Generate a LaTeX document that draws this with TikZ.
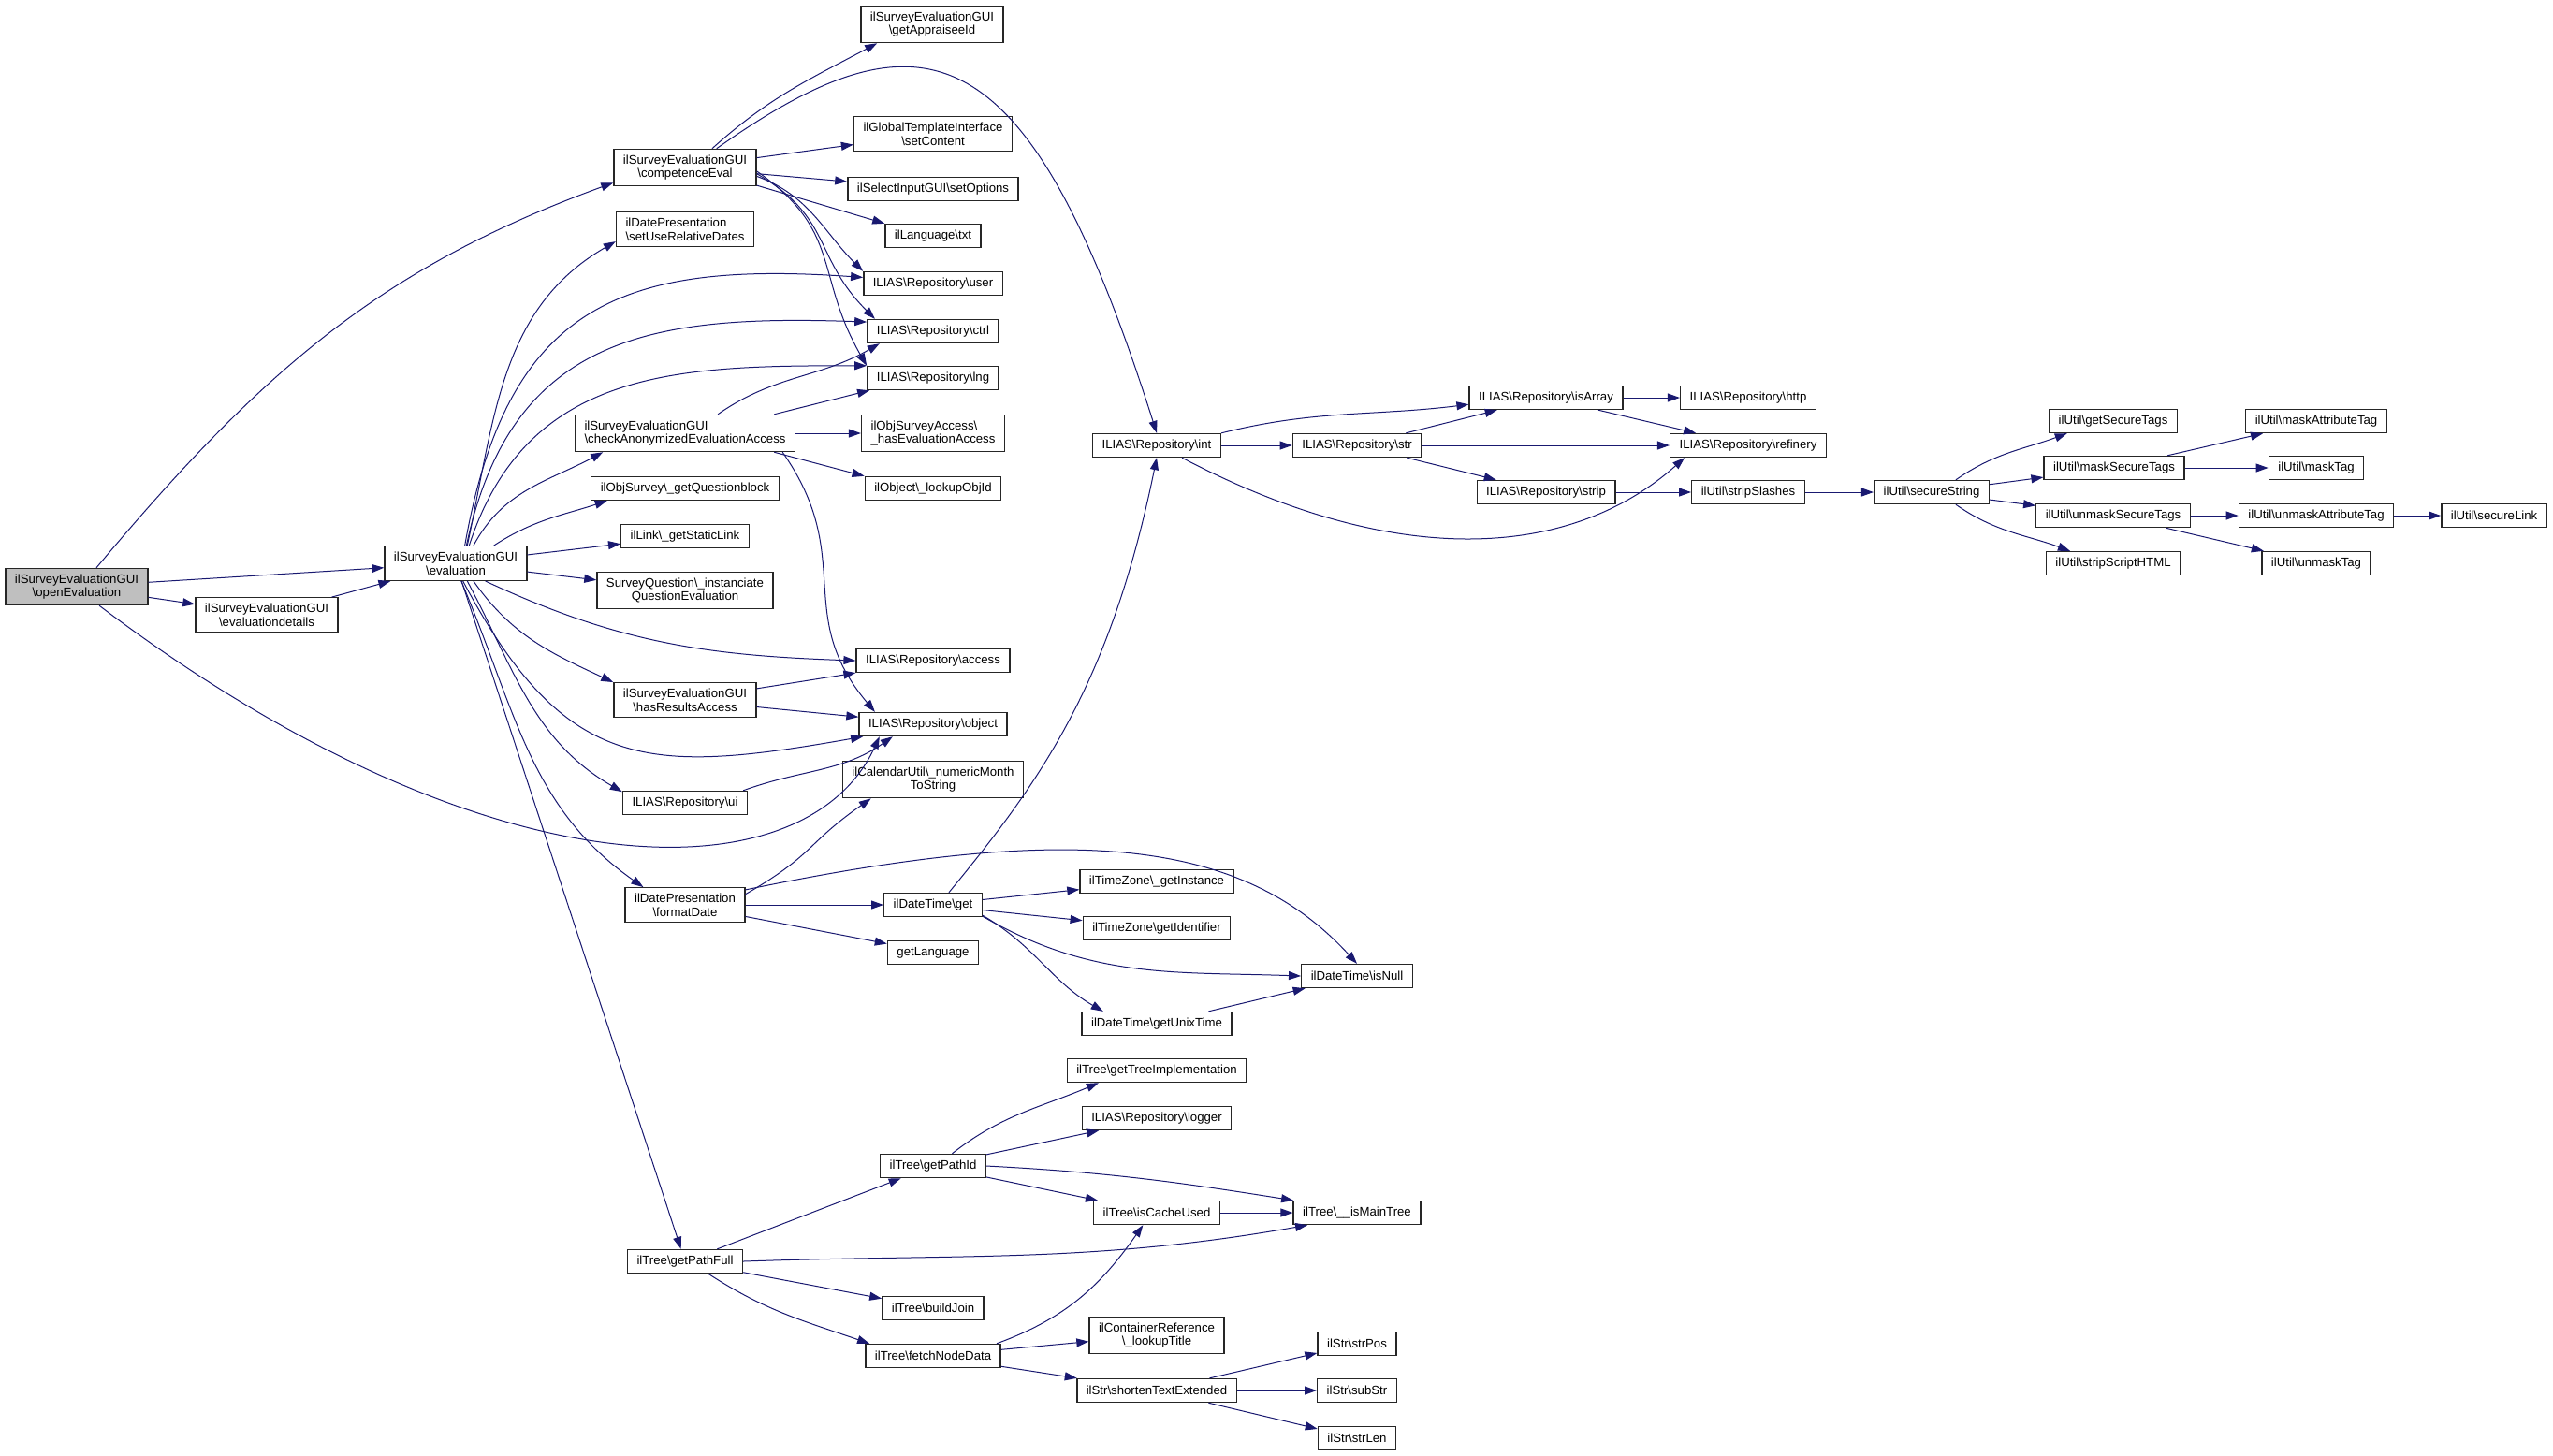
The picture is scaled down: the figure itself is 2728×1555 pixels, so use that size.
\documentclass[tikz,border=0pt]{standalone}
\usepackage{fontspec}
\setmainfont{Liberation Sans}
\usepackage{tikz}
\usetikzlibrary{arrows.meta}
\definecolor{callblue}{RGB}{25,25,112}
\newcommand{\bsl}{\textbackslash}

\begin{document}
\begin{tikzpicture}[x=0.5pt,y=0.5pt,
  fn/.style={draw=black!85, line width=0.7pt, fill=white, rectangle, inner xsep=5pt, inner ysep=3pt,
    minimum height=12.5pt, font=\fontsize{6.6}{7.4}\selectfont, align=center},
  fnl/.style={fn, align=left},
  call/.style={-{Triangle[length=6.5pt,width=4.5pt]}, draw=callblue, line width=0.5pt}]
\useasboundingbox (0,0) rectangle (2728,-1555);

% nodes %
\node[fn, fill=black!25] (oe) at (82,-627) {ilSurveyEvaluationGUI\\\bsl openEvaluation};
\node[fn] (ed) at (285,-657) {ilSurveyEvaluationGUI\\\bsl evaluationdetails};
\node[fn] (ev) at (487,-602) {ilSurveyEvaluationGUI\\\bsl evaluation};

\node[fn] (ce) at (732,-179) {ilSurveyEvaluationGUI\\\bsl competenceEval};
\node[fnl] (su) at (732,-245) {ilDatePresentation\\\bsl setUseRelativeDates};
\node[fnl] (ca) at (732,-463) {ilSurveyEvaluationGUI\\\bsl checkAnonymizedEvaluationAccess};
\node[fn] (gq) at (732,-522) {ilObjSurvey\bsl\_getQuestionblock};
\node[fn] (sl) at (732,-573) {ilLink\bsl\_getStaticLink};
\node[fn] (sq) at (732,-631) {SurveyQuestion\bsl\_instanciate\\QuestionEvaluation};
\node[fn] (hr) at (732,-748) {ilSurveyEvaluationGUI\\\bsl hasResultsAccess};
\node[fn] (ui) at (732,-858) {ILIAS\bsl Repository\bsl ui};
\node[fn] (fd) at (732,-967) {ilDatePresentation\\\bsl formatDate};
\node[fn] (pf) at (732,-1348) {ilTree\bsl getPathFull};

\node[fn] (ga) at (996,-26) {ilSurveyEvaluationGUI\\\bsl getAppraiseeId};
\node[fn] (sc) at (997,-143) {ilGlobalTemplateInterface\\\bsl setContent};
\node[fn] (so) at (997,-202) {ilSelectInputGUI\bsl setOptions};
\node[fn] (tx) at (997,-252) {ilLanguage\bsl txt};
\node[fn] (us) at (997,-303) {ILIAS\bsl Repository\bsl user};
\node[fn] (ct) at (997,-354) {ILIAS\bsl Repository\bsl ctrl};
\node[fn] (lng) at (997,-404) {ILIAS\bsl Repository\bsl lng};
\node[fnl] (he) at (997,-463) {ilObjSurveyAccess\bsl\\\_hasEvaluationAccess};
\node[fn] (lo) at (997,-522) {ilObject\bsl\_lookupObjId};
\node[fn] (ac) at (997,-706) {ILIAS\bsl Repository\bsl access};
\node[fn] (ob) at (997,-774) {ILIAS\bsl Repository\bsl object};
\node[fn] (nm) at (997,-833) {ilCalendarUtil\bsl\_numericMonth\\ToString};
\node[fn] (dg) at (997,-967) {ilDateTime\bsl get};
\node[fn] (gl) at (997,-1018) {getLanguage};
\node[fn] (pi) at (997,-1246) {ilTree\bsl getPathId};
\node[fn] (bj) at (997,-1398) {ilTree\bsl buildJoin};
\node[fn] (nd) at (997,-1449) {ilTree\bsl fetchNodeData};

\node[fn] (ri) at (1236,-476) {ILIAS\bsl Repository\bsl int};
\node[fn] (gi) at (1236,-942) {ilTimeZone\bsl\_getInstance};
\node[fn] (gid) at (1236,-992) {ilTimeZone\bsl getIdentifier};
\node[fn] (ut) at (1236,-1094) {ilDateTime\bsl getUnixTime};
\node[fn] (ti) at (1236,-1144) {ilTree\bsl getTreeImplementation};
\node[fn] (lgr) at (1236,-1195) {ILIAS\bsl Repository\bsl logger};
\node[fn] (cu) at (1236,-1296) {ilTree\bsl isCacheUsed};
\node[fn] (lt) at (1236,-1427) {ilContainerReference\\\bsl\_lookupTitle};
\node[fn] (st) at (1236,-1486) {ilStr\bsl shortenTextExtended};

\node[fn] (rs) at (1450,-476) {ILIAS\bsl Repository\bsl str};
\node[fn] (isn) at (1450,-1043) {ilDateTime\bsl isNull};
\node[fn] (mt) at (1450,-1296) {ilTree\bsl\_\_isMainTree};
\node[fn] (pos) at (1450,-1436) {ilStr\bsl strPos};
\node[fn] (sub) at (1450,-1486) {ilStr\bsl subStr};
\node[fn] (len) at (1450,-1537) {ilStr\bsl strLen};

\node[fn] (ia) at (1652,-425) {ILIAS\bsl Repository\bsl isArray};
\node[fn] (rst) at (1652,-526) {ILIAS\bsl Repository\bsl strip};
\node[fn] (ht) at (1868,-425) {ILIAS\bsl Repository\bsl http};
\node[fn] (rf) at (1868,-476) {ILIAS\bsl Repository\bsl refinery};
\node[fn] (sls) at (1868,-526) {ilUtil\bsl stripSlashes};
\node[fn] (sst) at (2064,-526) {ilUtil\bsl secureString};
\node[fn] (gst) at (2258,-450) {ilUtil\bsl getSecureTags};
\node[fn] (mst) at (2259,-500) {ilUtil\bsl maskSecureTags};
\node[fn] (ust) at (2258,-551) {ilUtil\bsl unmaskSecureTags};
\node[fn] (ssh) at (2258,-602) {ilUtil\bsl stripScriptHTML};
\node[fn] (mat) at (2475,-450) {ilUtil\bsl maskAttributeTag};
\node[fn] (mtg) at (2475,-500) {ilUtil\bsl maskTag};
\node[fn] (uat) at (2475,-551) {ilUtil\bsl unmaskAttributeTag};
\node[fn] (utg) at (2475,-602) {ilUtil\bsl unmaskTag};
\node[fn] (sli) at (2665,-551) {ilUtil\bsl secureLink};

% edges %
\draw[call] (oe.44) to[out=50,in=200] (ce.192);
\draw[call] (oe) -- (ev);
\draw[call] (oe) -- (ed);
\draw[call] (oe.-40) .. controls (520,-960) and (860,-960) .. (ob.193);
\draw[call] (ed) -- (ev);

\draw[call] (ev.57) to[out=78,in=210] (su.190);
\draw[call] (ev.63) to[out=80,in=176,looseness=1.3] (us.175);
\draw[call] (ev.59) to[out=78,in=178,looseness=1.2] (ct.172);
\draw[call] (ev.53) to[out=72,in=180,looseness=1.1] (lng.north west);
\draw[call] (ev.45) to[out=62,in=208] (ca.193);
\draw[call] (ev.25) to[out=33,in=198] (gq.189);
\draw[call] (ev) -- (sl);
\draw[call] (ev) -- (sq);
\draw[call] (ev.-31) to[out=-25,in=178] (ac.west);
\draw[call] (ev.-45) to[out=-55,in=155] (hr.north west);
\draw[call] (ev.-68) to[out=-62,in=190,looseness=1.3] (ob.190);
\draw[call] (ev.-57) to[out=-62,in=150] (ui.170);
\draw[call] (ev.-73) to[out=-67,in=145] (fd.157);
\draw[call] (ev) -- (pf);

\draw[call] (ce.35) to[out=42,in=208] (ga.199);
\draw[call] (ce.31) .. controls (990,0) and (1100,-35) .. (ri.north);
\draw[call] (ce) -- (sc);
\draw[call] (ce) -- (so);
\draw[call] (ce.-14) -- (tx.north west);
\draw[call] (ce.-7) to[out=-20,in=135] (us.north west);
\draw[call] (ce.-5) to[out=-30,in=135,looseness=1.2] (ct.168);
\draw[call] (ce.-3) to[out=-35,in=120,looseness=1.2] (lng.north west);

\draw[call] (ca.30) to[out=35,in=210] (ct.193);
\draw[call] (ca.12) -- (lng.191);
\draw[call] (ca) -- (he);
\draw[call] (ca.-12) -- (lo.north west);
\draw[call] (ca.-11) to[out=-55,in=130,looseness=1.2] (ob.168);

\draw[call] (hr) -- (ac);
\draw[call] (hr) -- (ob);
\draw[call] (ui.12) to[out=20,in=215] (ob.197);

\draw[call] (fd.10) to[out=30,in=215,looseness=1.3] (nm.197);
\draw[call] (fd.14) .. controls (1139,-880) and (1325,-893) .. (isn.north);
\draw[call] (fd) -- (dg);
\draw[call] (fd) -- (gl);

\draw[call] (dg.38) .. controls (1109,-838) and (1186,-734) .. (ri.south);
\draw[call] (dg) -- (gi);
\draw[call] (dg) -- (gid);
\draw[call] (dg.-13) to[out=-30,in=178] (isn.west);
\draw[call] (dg.-12) to[out=-30,in=150] (ut.167);
\draw[call] (ut) -- (isn);

\draw[call] (ri.north east) to[out=14,in=187] (ia.185);
\draw[call] (ri) -- (rs);
\draw[call] (ri.-26) .. controls (1483,-605) and (1673,-602) .. (rf.191);
\draw[call] (rs) -- (ia);
\draw[call] (rs) -- (rf);
\draw[call] (rs) -- (rst);
\draw[call] (ia) -- (ht);
\draw[call] (ia) -- (rf);
\draw[call] (rst) -- (sls);
\draw[call] (sls) -- (sst);

\draw[call] (sst.27) to[out=35,in=200] (gst.195);
\draw[call] (sst) -- (mst);
\draw[call] (sst) -- (ust);
\draw[call] (sst.-27) to[out=-35,in=160] (ssh.164);
\draw[call] (mst) -- (mat);
\draw[call] (mst) -- (mtg);
\draw[call] (ust) -- (uat);
\draw[call] (ust) -- (utg);
\draw[call] (uat) -- (sli);

\draw[call] (pf) -- (pi);
\draw[call] (pf.east) to[out=2,in=190] (mt.194);
\draw[call] (pf) -- (bj);
\draw[call] (pf.-28) to[out=-33,in=161] (nd.169);
\draw[call] (pi.33) to[out=38,in=203] (ti.192);
\draw[call] (pi) -- (lgr);
\draw[call] (pi.east) to[out=-3,in=171] (mt.169);
\draw[call] (pi) -- (cu);
\draw[call] (cu) -- (mt);
\draw[call] (nd.11) to[out=20,in=235] (cu.222);
\draw[call] (nd) -- (lt);
\draw[call] (nd) -- (st);
\draw[call] (st) -- (pos);
\draw[call] (st) -- (sub);
\draw[call] (st) -- (len);
\end{tikzpicture}
\end{document}
